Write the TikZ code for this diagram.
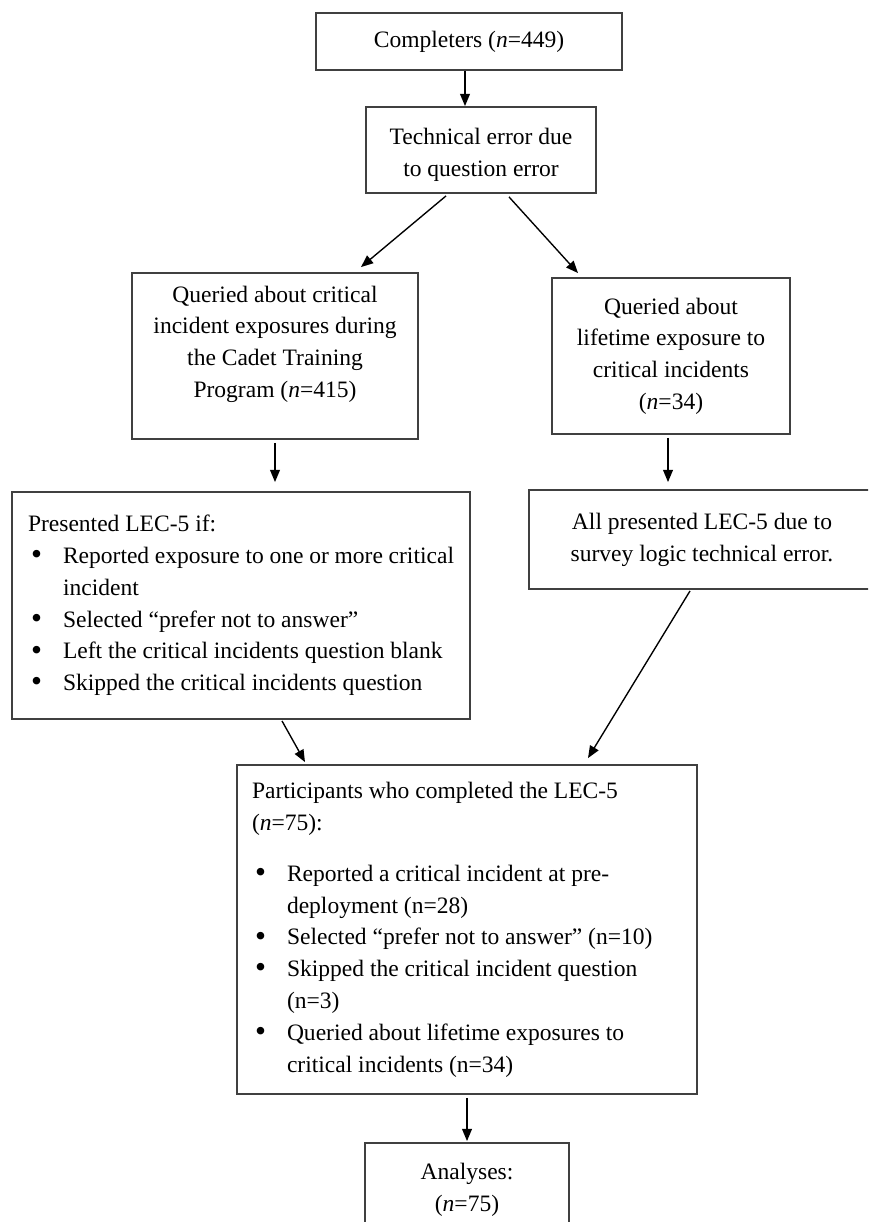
\documentclass[tikz,border=0pt]{standalone}
\usepackage{fontspec}
\setmainfont{Liberation Serif}
\usetikzlibrary{arrows.meta,positioning}

\newdimen\px \px=0.51pt
\newcommand{\bul}{\makebox[35\px][l]{\hspace{3\px}\raisebox{-1.2\px}{\fontsize{16}{16}\selectfont\textbullet}}}
\newcommand{\ind}{\hspace*{35\px}}
\newcommand{\plainsp}{\spaceskip=0pt\xspaceskip=0pt\relax}

\begin{document}
\begin{tikzpicture}[
    x=0.51pt, y=-0.51pt,
    box/.style={rectangle, draw=black!75, line width=0.95pt, inner sep=0pt, align=center, font=\fontsize{12}{16.2}\selectfont},
    listbox/.style={box, align=left},
    arrow/.style={-{Triangle[length=6.2pt, width=5pt]}, line width=0.7pt}
]
    \clip (0,0) rectangle (868,1222);

    % boxes, top to bottom
    \node[box, minimum width=306\px, minimum height=57\px] (compl) at (469,41.5) {Completers (\textit{n}=449)};
    \node[box, minimum width=230\px, minimum height=86\px] (techerr) at (481,150) {\rule{0pt}{26\px}Technical error due\\to question error};
    \node[box, minimum width=286\px, minimum height=166\px] (cadet) at (275,356) {Queried about critical\\incident exposures during\\the Cadet Training\\Program (\textit{n}=415)\rule[-29\px]{0pt}{0pt}};
    \node[box, minimum width=238\px, minimum height=156\px] (lifetime) at (671,356) {Queried about\\lifetime exposure to\\critical incidents\\(\textit{n}=34)};
    \node[listbox, text width=426\px, minimum width=458\px, minimum height=227\px] (presented) at (241,605.5) {\plainsp Presented LEC-5 if:\\
        \bul Reported exposure to one or more critical\\
        \ind incident\\
        \bul Selected “prefer not to answer”\\
        \bul Left the critical incidents question blank\\
        \bul Skipped the critical incidents question};
    \node[box, minimum width=346\px, minimum height=99\px] (allpres) at (702,539.5) {All presented LEC-5 due to\\survey logic technical error.};
    \node[listbox, text width=430\px, minimum width=460\px, minimum height=329\px] (particip) at (467,929.5) {\plainsp Participants who completed the LEC-5\\
        (\textit{n}=75):\\[10pt]
        \bul Reported a critical incident at pre-\\
        \ind deployment (n=28)\\
        \bul Selected “prefer not to answer” (n=10)\\
        \bul Skipped the critical incident question\\
        \ind (n=3)\\
        \bul Queried about lifetime exposures to\\
        \ind critical incidents (n=34)};
    \node[box, minimum width=204\px, minimum height=94\px] (analyses) at (467,1190) {Analyses:\\(\textit{n}=75)};

    % connectors
    \draw[arrow] (compl.south -| 465,0) -- (techerr.north -| 465,0);
    \draw[arrow] ([shift={(-35,2)}]techerr.south) -- ([shift={(86,-5)}]cadet.north);
    \draw[arrow] ([shift={(28,3)}]techerr.south) -- ([shift={(-93,-4)}]lifetime.north);
    \draw[arrow] ([shift={(0,3)}]cadet.south) -- ([shift={(0,-9)}]presented.north -| cadet.south);
    \draw[arrow] ([shift={(-3,3)}]lifetime.south) -- ([shift={(0,-7)}]allpres.north -| 668,0);
    \draw[arrow] ([shift={(41,1)}]presented.south) -- ([shift={(-162,-2)}]particip.north);
    \draw[arrow] ([shift={(-12,1)}]allpres.south) -- ([shift={(121,-6)}]particip.north);
    \draw[arrow] ([shift={(0,3)}]particip.south) -- ([shift={(0,-1)}]analyses.north);
\end{tikzpicture}
\end{document}
